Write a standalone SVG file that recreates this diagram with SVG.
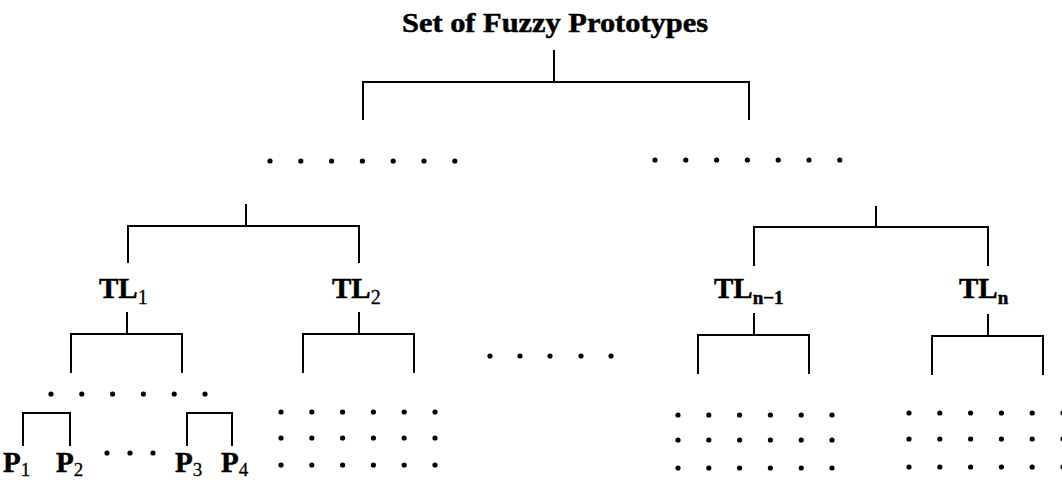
<svg xmlns="http://www.w3.org/2000/svg" width="1062" height="486" viewBox="0 0 1062 486">
  <defs>
    <style>
      .ln { fill: none; stroke: #000; stroke-width: 2; stroke-linecap: butt; stroke-linejoin: miter; }
      .lbl { font-family: "Liberation Serif", "Times New Roman", serif; font-weight: bold; fill: #000; stroke: #000; stroke-width: 0.5; }
      .sub { font-weight: normal; stroke-width: 0.3; }
      .dot { fill: #000; }
    </style>
    <circle id="d" r="2.6" class="dot"/>
    <!-- row of six dots spaced ~30.8 px -->
    <g id="row6">
      <use href="#d" x="0"/><use href="#d" x="30.8"/><use href="#d" x="61.6"/>
      <use href="#d" x="92.4"/><use href="#d" x="123.2"/><use href="#d" x="154"/>
    </g>
    <g id="row7">
      <use href="#row6"/><use href="#d" x="184.8"/>
    </g>
  </defs>
  <rect width="1062" height="486" fill="#fff"/>

  <!-- root label -->
  <g id="root">
    <text class="lbl" x="402" y="32" font-size="28" textLength="306" lengthAdjust="spacingAndGlyphs">Set of Fuzzy Prototypes</text>
  </g>

  <!-- intermediate levels shown as ellipses -->
  <g id="level1-left"><use href="#row7" x="270" y="161"/></g>
  <g id="level1-right"><use href="#row7" x="655" y="160"/></g>
  <g id="gap-middle">
    <use href="#d" x="490" y="356"/><use href="#d" x="520" y="356"/><use href="#d" x="550" y="356"/>
    <use href="#d" x="581" y="356"/><use href="#d" x="611" y="356"/>
  </g>

  <!-- top-level nodes -->
  <g id="tl1">
    <text class="lbl" x="99" y="298" font-size="29">TL<tspan class="sub" font-size="20" dy="6">1</tspan></text>
  </g>
  <g id="tl2">
    <text class="lbl" x="332" y="298" font-size="29">TL<tspan class="sub" font-size="20" dy="6">2</tspan></text>
  </g>
  <g id="tln-1">
    <text class="lbl" x="714" y="298" font-size="29">TL<tspan font-size="19" dy="6">n−1</tspan></text>
  </g>
  <g id="tln">
    <text class="lbl" x="959" y="298" font-size="29">TL<tspan font-size="19" dy="6">n</tspan></text>
  </g>

  <!-- sub-level of TL1 -->
  <g id="tl1-children"><use href="#row6" x="51" y="394"/></g>
  <g id="p1"><text class="lbl" x="3" y="472" font-size="29">P<tspan class="sub" font-size="19" dy="4">1</tspan></text></g>
  <g id="p2"><text class="lbl" x="56" y="472" font-size="29">P<tspan class="sub" font-size="19" dy="4">2</tspan></text></g>
  <g id="p-gap">
    <use href="#d" x="107" y="453"/><use href="#d" x="130" y="453"/><use href="#d" x="153" y="453"/>
  </g>
  <g id="p3"><text class="lbl" x="175" y="472" font-size="29">P<tspan class="sub" font-size="19" dy="4">3</tspan></text></g>
  <g id="p4"><text class="lbl" x="221" y="472" font-size="29">P<tspan class="sub" font-size="19" dy="4">4</tspan></text></g>

  <!-- collapsed subtrees -->
  <g id="tl2-children">
    <use href="#row6" x="281" y="412"/><use href="#row6" x="281" y="438"/><use href="#row6" x="281" y="465"/>
  </g>
  <g id="tln-1-children">
    <use href="#row6" x="678" y="415"/><use href="#row6" x="678" y="440"/><use href="#row6" x="678" y="468"/>
  </g>
  <g id="tln-children">
    <use href="#row6" x="909" y="413"/><use href="#row6" x="909" y="439"/><use href="#row6" x="909" y="467"/>
  </g>

  <!-- connectors -->
  <g id="connectors">
    <path class="ln" d="M554 50V82M363 120V82H749V120"/>
    <path class="ln" d="M246 204V226M128 263V226H359V263"/>
    <path class="ln" d="M876 206V227M754 266V227H988V266"/>
    <path class="ln" d="M127 312V334M71 373V334H182V373"/>
    <path class="ln" d="M359 312V334M303 373V334H414V373"/>
    <path class="ln" d="M754 313V335M698 374V335H809V374"/>
    <path class="ln" d="M988 314V336M932 375V336H1043V375"/>
    <path class="ln" d="M23 446V413H70V446"/>
    <path class="ln" d="M187 446V413H232V446"/>
  </g>
</svg>
